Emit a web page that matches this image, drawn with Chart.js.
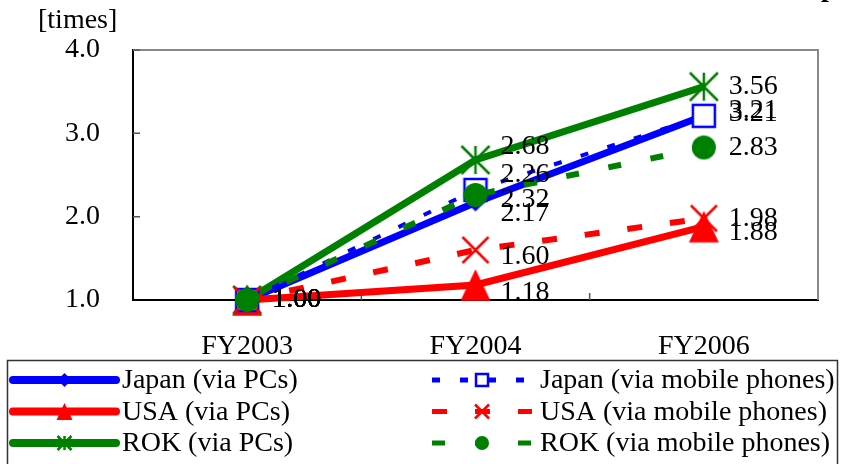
<!DOCTYPE html>
<html>
<head>
<meta charset="utf-8">
<script src="https://cdn.jsdelivr.net/npm/chart.js@4"></script>
<style>
  body { margin: 0; background: #fff; }
  canvas { display: block; }
</style>
</head>
<body>
<canvas id="mychart" width="841" height="464"></canvas>
<script>
// values
const years = ['FY2003', 'FY2004', 'FY2006']
const japanPC = [1.00, 2.17, 3.21]
const usaPC = [1.00, 1.18, 1.88]
const rokPC = [1.00, 2.68, 3.56]
const japanMobile = [1.00, 2.32, 3.21]
const usaMobile = [1.00, 1.60, 1.98]
const rokMobile = [1.00, 2.26, 2.83]
const yTicks = [1.0, 2.0, 3.0, 4.0]
const yUnit = '[times]'

const FONT = "'Liberation Serif', 'Times New Roman', serif"
const BLUE = '#0000ff'
const RED = '#ff0000'
const GREEN = '#008000'

// draws one marker shape, s = half size
const drawMarker = (ctx, kind, x, y, s, color) => {
    ctx.save()
    ctx.fillStyle = color
    ctx.strokeStyle = color
    ctx.lineWidth = 2.5
    ctx.beginPath()
    if (kind === 'diamond') {
        ctx.moveTo(x, y - s); ctx.lineTo(x + s, y); ctx.lineTo(x, y + s); ctx.lineTo(x - s, y)
        ctx.closePath(); ctx.fill()
    } else if (kind === 'square') {
        ctx.rect(x - s, y - s, 2 * s, 2 * s)
        ctx.fillStyle = '#fff'; ctx.fill(); ctx.stroke()
    } else if (kind === 'triangle') {
        const h = s * 1.05
        ctx.moveTo(x, y - h); ctx.lineTo(x + s, y + h); ctx.lineTo(x - s, y + h)
        ctx.closePath(); ctx.fill()
    } else if (kind === 'x') {
        ctx.moveTo(x - s, y - s); ctx.lineTo(x + s, y + s)
        ctx.moveTo(x + s, y - s); ctx.lineTo(x - s, y + s)
        ctx.stroke()
    } else if (kind === 'star') {
        ctx.moveTo(x, y - s); ctx.lineTo(x, y + s)
        ctx.moveTo(x - s, y - s); ctx.lineTo(x + s, y + s)
        ctx.moveTo(x + s, y - s); ctx.lineTo(x - s, y + s)
        ctx.stroke()
    } else if (kind === 'circle') {
        ctx.arc(x, y, s, 0, Math.PI * 2); ctx.fill()
    }
    ctx.restore()
}

const makeMarker = (kind, s, color) => {
    const c = document.createElement('canvas')
    c.width = c.height = Math.ceil(2 * s + 8)
    drawMarker(c.getContext('2d'), kind, c.width / 2, c.height / 2, s, color)
    return c
}

const datasets = [
    { label: 'Japan (via PCs)', data: japanPC, borderColor: BLUE, borderWidth: 7, borderDash: [],
      marker: 'diamond', size: 9, legSize: 7, labelDy: [0, 11, -5], order: 6 },
    { label: 'USA (via PCs)', data: usaPC, borderColor: RED, borderWidth: 7, borderDash: [],
      marker: 'triangle', size: 15, legSize: 8, labelDy: [0, 8, 6], order: 5 },
    { label: 'ROK (via PCs)', data: rokPC, borderColor: GREEN, borderWidth: 7, borderDash: [],
      marker: 'star', size: 14, legSize: 7, labelDy: [0, -13, 0], order: 4 },
    { label: 'Japan (via mobile phones)', data: japanMobile, borderColor: BLUE, borderWidth: 4, borderDash: [8, 20],
      marker: 'square', size: 11, legSize: 6, labelDy: [0, 10, -2], order: 3 },
    { label: 'USA (via mobile phones)', data: usaMobile, borderColor: RED, borderWidth: 6, borderDash: [15, 28],
      marker: 'x', size: 13, legSize: 7, labelDy: [0, 7, 0], order: 2 },
    { label: 'ROK (via mobile phones)', data: rokMobile, borderColor: GREEN, borderWidth: 6, borderDash: [13, 30],
      marker: 'circle', size: 12, legSize: 7, labelDy: [0, -20, 0], order: 1 },
].map(d => ({
    ...d,
    fill: false,
    tension: 0,
    clip: false,
    pointRadius: 10,
    pointStyle: makeMarker(d.marker, d.size, d.borderColor),
}))

// frame, inner tick marks, unit text
const framePlugin = {
    id: 'frame',
    beforeDatasetsDraw(chart) {
        const { ctx, chartArea: a, scales } = chart
        ctx.save()
        ctx.strokeStyle = '#888'
        ctx.lineWidth = 2
        ctx.beginPath()
        ctx.moveTo(a.left, a.top); ctx.lineTo(a.right, a.top); ctx.lineTo(a.right, a.bottom)
        ctx.stroke()
        ctx.strokeStyle = '#555'
        ctx.lineWidth = 1.5
        ctx.beginPath()
        yTicks.slice(1).forEach(v => {
            const y = scales.y.getPixelForValue(v)
            ctx.moveTo(a.left, y); ctx.lineTo(a.left + 7, y)
        })
        const step = (a.right - a.left) / years.length
        for (let i = 1; i < years.length; i++) {
            const x = a.left + step * i
            ctx.moveTo(x, a.bottom); ctx.lineTo(x, a.bottom - 7)
        }
        ctx.stroke()
        ctx.fillStyle = '#000'
        ctx.font = '28px ' + FONT
        ctx.textBaseline = 'alphabetic'
        ctx.fillText(yUnit, 38, 28)
        ctx.font = 'bold 28px ' + FONT
        ctx.fillText('p', 821, -4)
        ctx.restore()
    }
}

const valueLabels = {
    id: 'valueLabels',
    afterDatasetsDraw(chart) {
        const { ctx } = chart
        ctx.save()
        ctx.font = '28px ' + FONT
        ctx.fillStyle = '#000'
        ctx.textAlign = 'left'
        ctx.textBaseline = 'middle'
        chart.data.datasets.forEach((ds, i) => {
            chart.getDatasetMeta(i).data.forEach((p, j) => {
                ctx.fillText(ds.data[j].toFixed(2), p.x + 25, p.y + ds.labelDy[j])
            })
        })
        ctx.restore()
    }
}

const boxLegend = {
    id: 'boxLegend',
    afterDraw(chart) {
        const { ctx } = chart
        ctx.save()
        ctx.strokeStyle = '#333'
        ctx.lineWidth = 1.5
        ctx.strokeRect(7.5, 360.5, 830, 110)
        ctx.font = '28px ' + FONT
        ctx.fillStyle = '#000'
        ctx.textBaseline = 'middle'
        chart.data.datasets.forEach((ds, i) => {
            const col = i < 3 ? 0 : 1
            const y = 380 + (i % 3) * 31.5
            const x0 = col ? 432 : 13
            const x1 = col ? 532 : 116
            ctx.save()
            ctx.strokeStyle = ds.borderColor
            ctx.lineWidth = col ? 5 : 8
            ctx.lineCap = col ? 'butt' : 'round'
            ctx.setLineDash(ds.borderDash)
            ctx.beginPath()
            ctx.moveTo(x0, y); ctx.lineTo(x1, y)
            ctx.stroke()
            ctx.restore()
            drawMarker(ctx, ds.marker, (x0 + x1) / 2, y, ds.legSize, ds.borderColor)
            ctx.fillStyle = '#000'
            ctx.fillText(ds.label, col ? 540 : 122, y + 1)
        })
        ctx.restore()
    }
}

const config = {
    type: 'line',
    data: { labels: years, datasets: datasets },
    options: {
        responsive: false,
        animation: false,
        events: [],
        layout: { padding: { left: 0, top: 50, right: 23, bottom: 104 } },
        font: { family: FONT, size: 28 },
        plugins: { legend: { display: false }, tooltip: { enabled: false } },
        scales: {
            x: {
                offset: true,
                afterFit: s => { s.height = 60 },
                grid: { display: false },
                border: { display: true, color: '#000', width: 2 },
                ticks: { color: '#000', font: { family: FONT, size: 28 }, padding: 22, maxRotation: 0 }
            },
            y: {
                min: 1,
                max: 4,
                afterFit: s => { s.width = 133 },
                afterBuildTicks: s => { s.ticks = yTicks.map(v => ({ value: v })) },
                grid: { display: false },
                border: { display: true, color: '#000', width: 2 },
                ticks: { color: '#000', font: { family: FONT, size: 28 }, padding: 25, callback: v => v.toFixed(1) }
            }
        }
    },
    plugins: [framePlugin, valueLabels, boxLegend]
}

const mychart = new Chart(document.querySelector('#mychart'), config)
</script>
</body>
</html>
